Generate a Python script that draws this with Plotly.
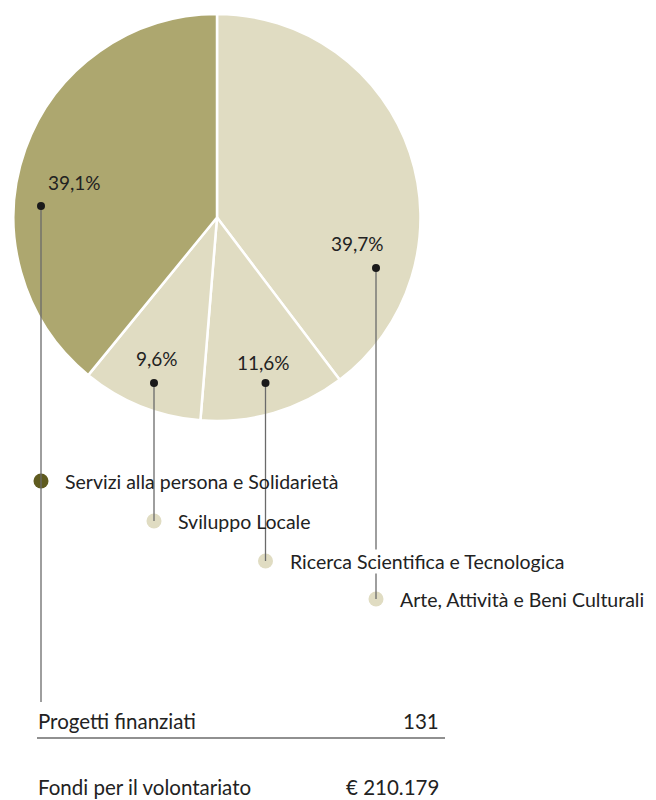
import plotly.graph_objects as go

# ---- data ----
categories = ["Arte, Attività e Beni Culturali", "Ricerca Scientifica e Tecnologica",
              "Sviluppo Locale", "Servizi alla persona e Solidarietà"]
values = [39.7, 11.6, 9.6, 39.1]
pct_labels = ["39,7%", "11,6%", "9,6%", "39,1%"]
summary_labels = ["Progetti finanziati", "Fondi per il volontariato"]
summary_values = ["131", "€ 210.179"]

# ---- styling / layout ----
W, H = 656, 800
OFF = 8  # page body margin compensation
slice_colors = ["#E0DCC2", "#E0DCC2", "#E0DCC2", "#ADA76F"]
marker_colors = ["#E0DCC2", "#E0DCC2", "#E0DCC2", "#5F5B1F"]
FONT = "Lato"
TXT = "#222222"
FS = 20.5
FS_LEG = 19.5

# label positions (page pixel space): percent text, dot, legend marker
pct_pos = [(357, 243), (263, 362), (157, 358), (74, 182)]
dot_pos = [(376, 268), (265.5, 383), (154, 383), (41, 206)]
leg_pos = [(376, 599), (265.5, 561), (154, 521), (41, 481)]
line_end = [599, 561, 521, 702]

fig = go.Figure()
fig.add_trace(go.Pie(
    labels=categories, values=values, sort=False, direction="clockwise", rotation=0,
    marker=dict(colors=slice_colors, line=dict(color="white", width=2.5)),
    textinfo="none", hoverinfo="label+value", showlegend=False,
    domain=dict(x=[(13 - OFF) / W, (421 - OFF) / W], y=[1 - (421 - OFF) / H, 1 - (14 - OFF) / H]),
))

# legend markers (outside pie)
fig.add_trace(go.Scatter(
    x=[p[0] for p in leg_pos], y=[p[1] for p in leg_pos], mode="markers",
    marker=dict(size=15, color=marker_colors, line=dict(width=0)),
    showlegend=False, hoverinfo="skip", xaxis="x", yaxis="y"))

shapes = []
annotations = []
for i, cat in enumerate(categories):
    dx, dy = dot_pos[i]
    shapes.append(dict(type="line", xref="x", yref="y", x0=dx, x1=dx, y0=dy, y1=line_end[i],
                       line=dict(color="#6a6a6a", width=1.3), layer="above"))
    shapes.append(dict(type="circle", xref="x", yref="y", x0=dx - 4, x1=dx + 4, y0=dy - 4, y1=dy + 4,
                       fillcolor="#1a1a1a", line=dict(width=0), layer="above"))
    annotations.append(dict(x=pct_pos[i][0], y=pct_pos[i][1], xref="x", yref="y", text=pct_labels[i],
                            showarrow=False, font=dict(family=FONT, size=19, color=TXT),
                            xanchor="center", yanchor="middle"))
    annotations.append(dict(x=leg_pos[i][0] + 23, y=leg_pos[i][1], xref="x", yref="y", text=cat,
                            showarrow=False, font=dict(family=FONT, size=FS_LEG, color=TXT),
                            xanchor="left", yanchor="middle",
                            bgcolor="white" if i == 1 else None, borderpad=0))

# summary table
sum_y = [721, 787]
for i in range(len(summary_labels)):
    annotations.append(dict(x=36, y=sum_y[i], xref="x", yref="y", text=summary_labels[i], showarrow=False,
                            font=dict(family=FONT, size=FS, color=TXT), xanchor="left", yanchor="middle"))
    annotations.append(dict(x=441, y=sum_y[i], xref="x", yref="y", text=summary_values[i], showarrow=False,
                            font=dict(family=FONT, size=FS, color=TXT), xanchor="right", yanchor="middle"))
shapes.append(dict(type="line", xref="x", yref="y", x0=37, x1=445, y0=738, y1=738,
                   line=dict(color="#222222", width=1.2), layer="above"))

fig.update_layout(
    width=W, height=H, margin=dict(l=0, r=0, t=0, b=0),
    paper_bgcolor="white", plot_bgcolor="rgba(0,0,0,0)",
    xaxis=dict(range=[OFF, W + OFF], visible=False, fixedrange=True),
    yaxis=dict(range=[H + OFF, OFF], visible=False, fixedrange=True),
    shapes=shapes, annotations=annotations, showlegend=False,
)
fig.write_html("out.html")
